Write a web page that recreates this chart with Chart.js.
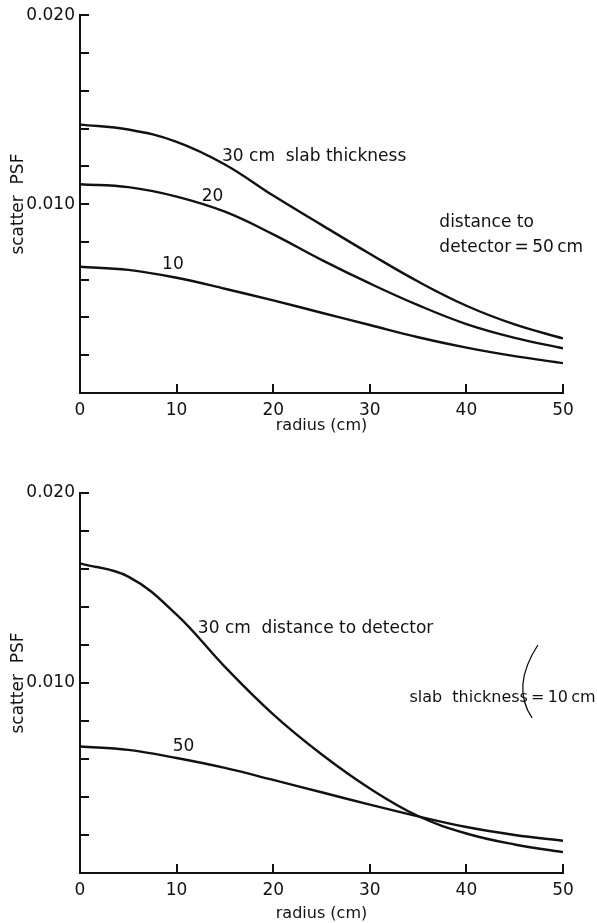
<!DOCTYPE html>
<html>
<head>
<meta charset="utf-8">
<script src="https://cdn.jsdelivr.net/npm/chart.js@4"></script>
<style>
  html, body { margin: 0; padding: 0; background: #fff; }
  #wrap { position: relative; width: 597px; height: 923px; }
  canvas { position: absolute; left: 0; }
</style>
</head>
<body>
<div id="wrap">
  <canvas id="topChart" width="597" height="460" style="top:0"></canvas>
  <canvas id="bottomChart" width="597" height="463" style="top:460px"></canvas>
</div>
<script>
// radius (cm) sample points, shared by every curve
const radius = [0, 5, 10, 15, 20, 25, 30, 35, 40, 45, 50];

// top panel: distance to detector = 50 cm, varying slab thickness
const slab30 = [0.01421, 0.01395, 0.01330, 0.01210, 0.01045, 0.00890, 0.00737, 0.00590, 0.00462, 0.00363, 0.00289];
const slab20 = [0.01105, 0.01090, 0.01040, 0.00960, 0.00840, 0.00705, 0.00580, 0.00465, 0.00365, 0.00292, 0.00237];
const slab10 = [0.00668, 0.00652, 0.00610, 0.00552, 0.00490, 0.00425, 0.00360, 0.00295, 0.00240, 0.00195, 0.00158];

// bottom panel: slab thickness = 10 cm, varying distance to detector
const dist30 = [0.01630, 0.01560, 0.01360, 0.01085, 0.00835, 0.00625, 0.00445, 0.00300, 0.00208, 0.00150, 0.00110];
const dist50 = [0.00666, 0.00648, 0.00605, 0.00553, 0.00490, 0.00425, 0.00360, 0.00298, 0.00242, 0.00200, 0.00170];

const xTicks = [0, 10, 20, 30, 40, 50];
const yLabelled = [0.010, 0.020];

const ink = '#111';
const fontFamily = '"DejaVu Sans", sans-serif';
const thin = '\u2009';

const toPoints = arr => radius.map((r, i) => ({ x: r, y: arr[i] }));

// inward tick marks, drawn from the scales
const inwardTicks = {
  id: 'inwardTicks',
  afterDraw(chart) {
    const { ctx, chartArea, scales: { x, y } } = chart;
    ctx.save();
    ctx.strokeStyle = ink;
    ctx.lineWidth = 2;
    ctx.beginPath();
    y.ticks.forEach(t => {
      if (t.value <= 0) return;
      const py = Math.round(y.getPixelForValue(t.value));
      ctx.moveTo(chartArea.left, py);
      ctx.lineTo(chartArea.left + 9, py);
    });
    x.ticks.forEach(t => {
      if (t.value <= 0) return;
      const px = Math.round(x.getPixelForValue(t.value));
      ctx.moveTo(px, chartArea.bottom);
      ctx.lineTo(px, chartArea.bottom - 9);
    });
    ctx.stroke();
    ctx.restore();
  }
};

// curve labels placed in data units
const curveLabels = {
  id: 'curveLabels',
  afterDraw(chart, args, opts) {
    const { ctx, scales: { x, y } } = chart;
    ctx.save();
    ctx.fillStyle = ink;
    ctx.textBaseline = 'middle';
    ctx.textAlign = 'left';
    (opts.items || []).forEach(it => {
      ctx.font = (it.size || 17) + 'px ' + fontFamily;
      ctx.fillText(it.text, x.getPixelForValue(it.x), y.getPixelForValue(it.y));
    });
    if (opts.bracket) {
      const b = opts.bracket;
      ctx.strokeStyle = ink;
      ctx.lineWidth = 1.3;
      ctx.beginPath();
      ctx.moveTo(x.getPixelForValue(b[0][0]), y.getPixelForValue(b[0][1]));
      ctx.quadraticCurveTo(x.getPixelForValue(b[1][0]), y.getPixelForValue(b[1][1]),
                           x.getPixelForValue(b[2][0]), y.getPixelForValue(b[2][1]));
      ctx.stroke();
    }
    ctx.restore();
  }
};

function makeChart(id, series, labels, bracket, pad, xHeight) {
  return new Chart(document.getElementById(id), {
    type: 'line',
    data: {
      datasets: series.map(s => ({
        data: toPoints(s),
        borderColor: ink,
        borderWidth: 2.4,
        pointRadius: 0,
        fill: false,
        tension: 0.4
      }))
    },
    options: {
      responsive: false,
      animation: false,
      layout: { padding: pad },
      plugins: {
        legend: { display: false },
        tooltip: { enabled: false },
        curveLabels: { items: labels, bracket: bracket }
      },
      scales: {
        x: {
          type: 'linear',
          min: 0,
          max: 50,
          afterFit: s => { s.height = xHeight; },
          afterBuildTicks: s => { s.ticks = xTicks.map(v => ({ value: v })); },
          grid: { display: true, drawOnChartArea: false, drawTicks: false },
          border: { display: true, color: ink, width: 2 },
          ticks: { color: ink, padding: 7, maxRotation: 0, font: { family: fontFamily, size: 17 } },
          title: {
            display: true,
            text: 'radius (cm)',
            color: ink,
            padding: { top: 2, bottom: 0 },
            font: { family: fontFamily, size: 16 }
          }
        },
        y: {
          type: 'linear',
          min: 0,
          max: 0.020,
          afterFit: s => { s.width = 80; },
          grid: { display: true, drawOnChartArea: false, drawTicks: false },
          border: { display: true, color: ink, width: 2 },
          ticks: {
            stepSize: 0.002,
            color: ink,
            padding: 5,
            autoSkip: false,
            font: { family: fontFamily, size: 17 },
            callback: v => {
              const hit = yLabelled.find(l => Math.abs(l - v) < 1e-9);
              return hit ? hit.toFixed(3) : '';
            }
          },
          title: {
            display: true,
            text: 'scatter  PSF',
            color: ink,
            padding: { top: 8, bottom: 0 },
            font: { family: fontFamily, size: 17 }
          }
        }
      }
    },
    plugins: [inwardTicks, curveLabels]
  });
}

makeChart('topChart', [slab30, slab20, slab10], [
  { text: '30 cm  slab thickness', x: 14.7, y: 0.01253 },
  { text: '20', x: 12.6, y: 0.01042 },
  { text: '10', x: 8.5, y: 0.00679 },
  { text: 'distance to', x: 37.2, y: 0.00900 },
  { text: 'detector' + thin + '=' + thin + '50' + thin + 'cm', x: 37.2, y: 0.00768 }
], null, { top: 14, right: 34, left: 0, bottom: 25 }, 42);

makeChart('bottomChart', [dist30, dist50], [
  { text: '30 cm  distance to detector', x: 12.2, y: 0.01284 },
  { text: '50', x: 9.6, y: 0.00663 },
  { text: 'slab  thickness' + thin + '=' + thin + '10' + thin + 'cm', x: 34.1, y: 0.00921, size: 16 }
], [[47.4, 0.0120], [44.6, 0.0098], [46.8, 0.00816]], { top: 33, right: 34, left: 0, bottom: 0 }, 50);
</script>
</body>
</html>
